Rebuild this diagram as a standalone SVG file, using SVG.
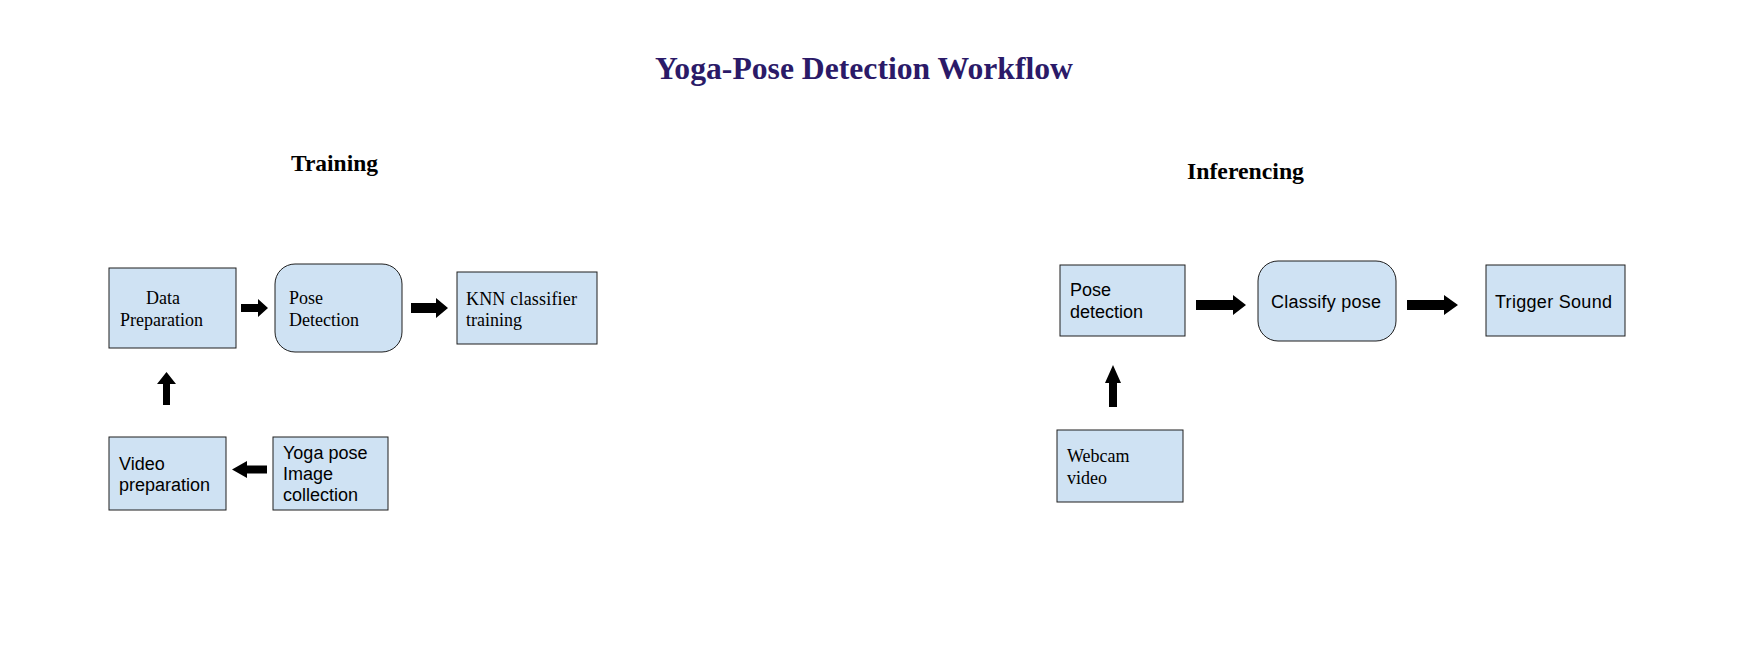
<svg xmlns="http://www.w3.org/2000/svg" width="1738" height="659" viewBox="0 0 1738 659">
<style>
.box{fill:#cfe2f3;stroke:#1f1f1f;stroke-width:1}
.arr{fill:#000}
.serif{font-family:"Liberation Serif","Times New Roman",serif;fill:#000;font-size:18px}
.sans{font-family:"Liberation Sans",Arial,sans-serif;fill:#000;font-size:18px}
.head{font-family:"Liberation Serif","Times New Roman",serif;font-weight:bold;fill:#000;font-size:24px}
</style>
<rect width="1738" height="659" fill="#fff"/>
<text x="655" y="79" class="head" style="fill:#2b1a68;font-size:31px" textLength="418" lengthAdjust="spacingAndGlyphs">Yoga-Pose Detection Workflow</text>
<text x="291" y="171" class="head" textLength="87" lengthAdjust="spacingAndGlyphs">Training</text>
<text x="1187" y="179" class="head" textLength="117" lengthAdjust="spacingAndGlyphs">Inferencing</text>

<g id="connectors">
<polygon class="arr" points="241,304 258,304 258,299 268,308 258,317 258,312 241,312"/>
<polygon class="arr" points="411,303 436,303 436,298 448,308 436,318 436,313 411,313"/>
<polygon class="arr" points="166.5,372 176,384 170,384 170,405 163,405 163,384 157,384"/>
<polygon class="arr" points="232,469.5 247,461 247,465.5 267,465.5 267,473.5 247,473.5 247,478"/>
<polygon class="arr" points="1196,300 1233,300 1233,295 1246,305 1233,315 1233,310 1196,310"/>
<polygon class="arr" points="1407,300 1444,300 1444,295 1458,305 1444,315 1444,310 1407,310"/>
<polygon class="arr" points="1113,365 1121,383 1117,383 1117,407 1109,407 1109,383 1105,383"/>
</g>

<g id="data-preparation">
<rect class="box" x="109" y="268" width="127" height="80"/>
<text class="serif" x="146" y="304">Data</text>
<text class="serif" x="120" y="326">Preparation</text>
</g>
<g id="pose-detection-train">
<rect class="box" x="275" y="264" width="127" height="88" rx="20" ry="20"/>
<text class="serif" x="289" y="304">Pose</text>
<text class="serif" x="289" y="326">Detection</text>
</g>
<g id="knn-training">
<rect class="box" x="457" y="272" width="140" height="72"/>
<text class="serif" x="466" y="305" textLength="111">KNN classifier</text>
<text class="serif" x="466" y="326">training</text>
</g>
<g id="video-preparation">
<rect class="box" x="109" y="437" width="117" height="73"/>
<text class="sans" x="119" y="470">Video</text>
<text class="sans" x="119" y="491">preparation</text>
</g>
<g id="image-collection">
<rect class="box" x="273" y="437" width="115" height="73"/>
<text class="sans" x="283" y="459">Yoga pose</text>
<text class="sans" x="283" y="480">Image</text>
<text class="sans" x="283" y="501">collection</text>
</g>

<g id="pose-detection-inf">
<rect class="box" x="1060" y="265" width="125" height="71"/>
<text class="sans" x="1070" y="296">Pose</text>
<text class="sans" x="1070" y="318">detection</text>
</g>
<g id="classify-pose">
<rect class="box" x="1258" y="261" width="138" height="80" rx="20" ry="20"/>
<text class="sans" x="1271" y="308" textLength="110">Classify pose</text>
</g>
<g id="trigger-sound">
<rect class="box" x="1486" y="265" width="139" height="71"/>
<text class="sans" x="1495" y="308" textLength="117">Trigger Sound</text>
</g>
<g id="webcam-video">
<rect class="box" x="1057" y="430" width="126" height="72"/>
<text class="serif" x="1067" y="462">Webcam</text>
<text class="serif" x="1067" y="484">video</text>
</g>
</svg>
